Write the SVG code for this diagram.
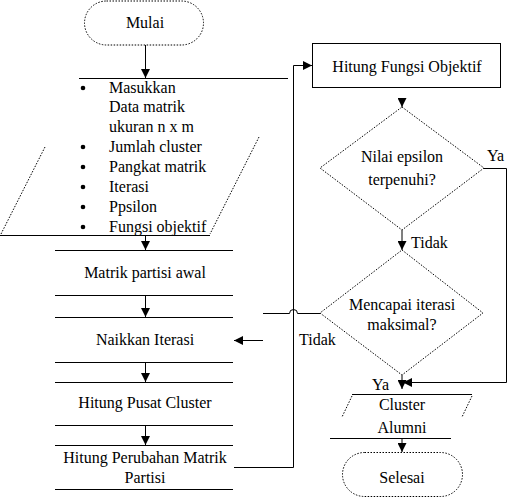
<svg xmlns="http://www.w3.org/2000/svg" width="507" height="499" viewBox="0 0 507 499">
<style>
text{font-family:'Liberation Serif','Times New Roman',serif;font-size:16px;fill:#000}
.c{text-anchor:middle}
.ln{stroke:#000;stroke-width:1;fill:none}
.dot{stroke:#000;stroke-width:1;fill:none;stroke-dasharray:1.5 1.5}
</style>
<defs>
<marker id="ah" viewBox="0 0 10 10" refX="10" refY="5" markerWidth="9" markerHeight="9" markerUnits="userSpaceOnUse" orient="auto">
<path d="M0,0 L10,5 L0,10 Z" fill="#000"/>
</marker>
</defs>
<rect width="507" height="499" fill="#fff"/>
<g font-family="Liberation Serif, serif" font-size="16">
<g id="mulai">
<rect class="dot" x="84.5" y="1" width="119" height="44" rx="22"/>
<text class="c" x="145" y="28">Mulai</text>
</g>
<g id="input">
<line class="ln" x1="79" y1="78.5" x2="288" y2="78.5"/>
<line class="ln" x1="0" y1="235.5" x2="210" y2="235.5"/>
<line class="dot" x1="1" y1="234" x2="45" y2="147"/>
<line class="dot" x1="259" y1="137" x2="210" y2="234"/>
<g>
<circle cx="83" cy="88" r="2.3"/>
<circle cx="83" cy="147" r="2.3"/>
<circle cx="83" cy="167" r="2.3"/>
<circle cx="83" cy="187" r="2.3"/>
<circle cx="83" cy="207" r="2.3"/>
<circle cx="83" cy="227" r="2.3"/>
</g>
<text x="109" y="93">Masukkan</text>
<text x="109" y="112">Data matrik</text>
<text x="109" y="132">ukuran n x m</text>
<text x="109" y="152">Jumlah cluster</text>
<text x="109" y="172">Pangkat matrik</text>
<text x="109" y="192">Iterasi</text>
<text x="109" y="212">Ppsilon</text>
<text x="109" y="232">Fungsi objektif</text>
</g>
<g id="matrik">
<line class="ln" x1="55" y1="250.5" x2="233" y2="250.5"/>
<line class="ln" x1="55" y1="295.5" x2="233" y2="295.5"/>
<text class="c" x="145" y="278">Matrik partisi awal</text>
</g>
<g id="naikkan">
<line class="ln" x1="55" y1="317.5" x2="233" y2="317.5"/>
<line class="ln" x1="55" y1="362.5" x2="233" y2="362.5"/>
<text class="c" x="145" y="345">Naikkan Iterasi</text>
</g>
<g id="pusat">
<line class="ln" x1="55" y1="382.5" x2="233" y2="382.5"/>
<line class="ln" x1="55" y1="425.5" x2="233" y2="425.5"/>
<text class="c" x="145" y="408">Hitung Pusat Cluster</text>
</g>
<g id="perubahan">
<line class="ln" x1="55" y1="445.5" x2="233" y2="445.5"/>
<line class="ln" x1="55" y1="489.5" x2="233" y2="489.5"/>
<text class="c" x="145" y="463">Hitung Perubahan Matrik</text>
<text class="c" x="145" y="483">Partisi</text>
</g>
<g id="fungsi">
<rect class="ln" x="312.5" y="43.5" width="188" height="44"/>
<text class="c" x="407" y="72">Hitung Fungsi Objektif</text>
</g>
<g id="epsilon">
<polygon class="dot" points="402,107 484,168 402,230 320,168"/>
<text class="c" x="402" y="162">Nilai epsilon</text>
<text class="c" x="402" y="185">terpenuhi?</text>
</g>
<g id="iterasi">
<polygon class="dot" points="402,250 483,313 402,375 320,313"/>
<text class="c" x="402" y="310">Mencapai iterasi</text>
<text class="c" x="402" y="330">maksimal?</text>
</g>
<g id="output">
<line class="ln" x1="352" y1="394.5" x2="472" y2="394.5"/>
<line class="ln" x1="330" y1="438.5" x2="451" y2="438.5"/>
<line class="dot" x1="352" y1="396" x2="342" y2="417"/>
<line class="dot" x1="472" y1="396" x2="462" y2="417"/>
<text class="c" x="402" y="410">Cluster</text>
<text class="c" x="402" y="433">Alumni</text>
</g>
<g id="selesai">
<rect class="dot" x="342.5" y="452.5" width="120" height="44" rx="22"/>
<text class="c" x="402" y="483">Selesai</text>
</g>
<g id="connectors">
<line class="ln" x1="145.5" y1="45" x2="145.5" y2="78" marker-end="url(#ah)"/>
<line class="ln" x1="145.5" y1="236" x2="145.5" y2="250" marker-end="url(#ah)"/>
<line class="ln" x1="145.5" y1="296" x2="145.5" y2="317" marker-end="url(#ah)"/>
<line class="ln" x1="145.5" y1="363" x2="145.5" y2="382" marker-end="url(#ah)"/>
<line class="ln" x1="145.5" y1="426" x2="145.5" y2="445" marker-end="url(#ah)"/>
<polyline class="ln" points="234,467.5 293.5,467.5 293.5,65.5 312,65.5" marker-end="url(#ah)"/>
<line class="ln" x1="402" y1="98" x2="402" y2="107" marker-end="url(#ah)"/>
<line class="ln" x1="402" y1="230" x2="402" y2="250" marker-end="url(#ah)"/>
<polyline class="ln" points="484,168.5 506.5,168.5 506.5,382.5 403,382.5" marker-end="url(#ah)"/>
<line class="ln" x1="402" y1="375" x2="402" y2="389" marker-end="url(#ah)"/>
<line class="ln" x1="402" y1="439" x2="402" y2="452" marker-end="url(#ah)"/>
<path class="ln" d="M320,313.5 L297.5,313.5 A4,4 0 0 0 289.5,313.5 L263,313.5"/>
<line class="ln" x1="263" y1="340.5" x2="234" y2="340.5" marker-end="url(#ah)"/>
<text x="487" y="161">Ya</text>
<text x="411" y="248">Tidak</text>
<text x="299" y="345">Tidak</text>
<text x="372" y="390">Ya</text>
</g>
</g>
</svg>
